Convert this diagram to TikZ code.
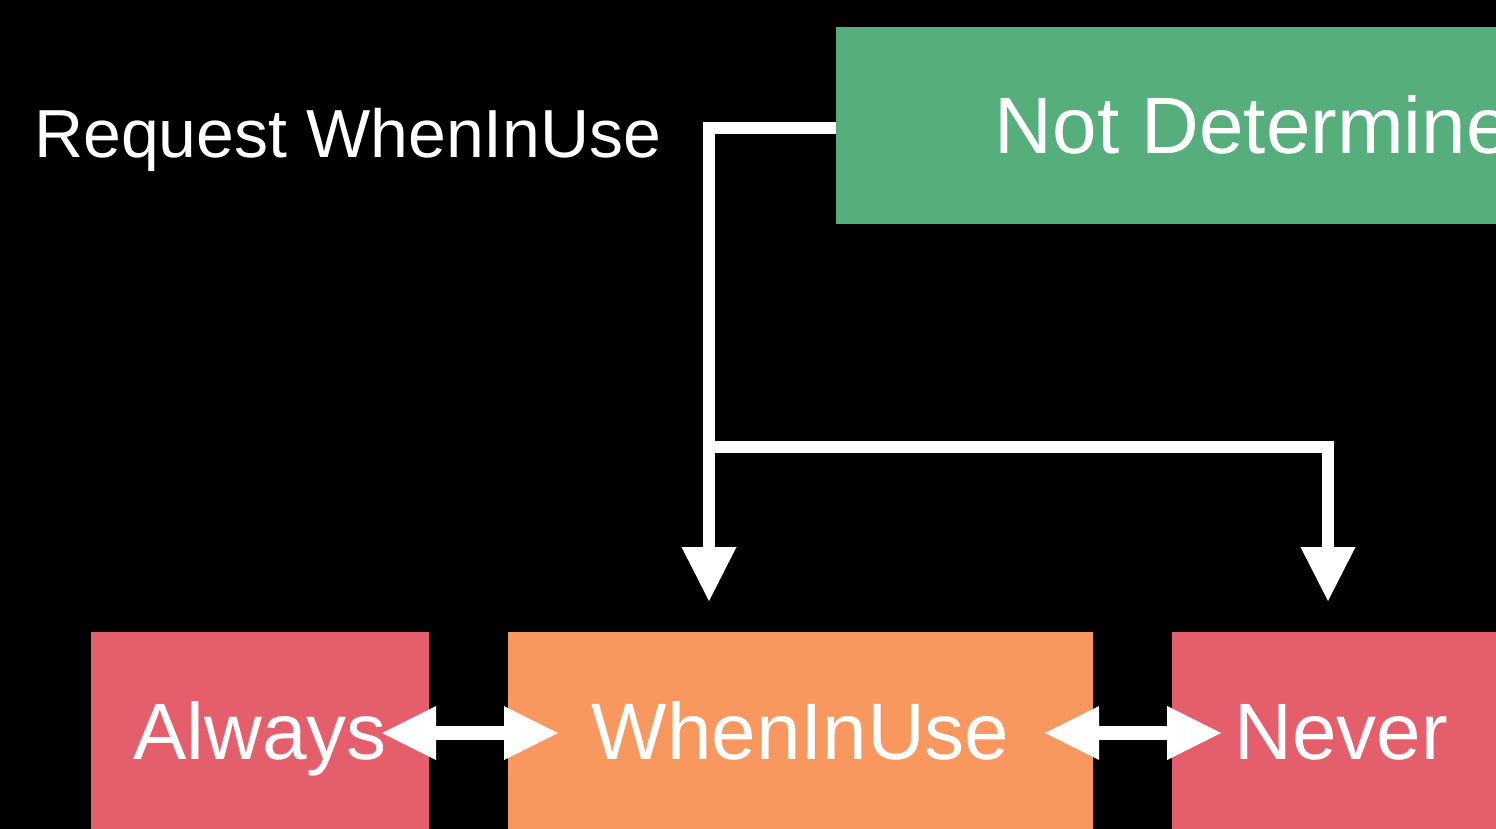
\documentclass[tikz,border=0pt]{standalone}
\usepackage{fontspec}
\setmainfont{Liberation Sans}
\usetikzlibrary{arrows.meta}
\definecolor{greenstate}{RGB}{85,174,123}
\definecolor{orangestate}{RGB}{249,152,94}
\definecolor{redstate}{RGB}{228,94,107}

\begin{document}
\begin{tikzpicture}[
  x=1pt, y=-1pt,
  statebox/.style={
    inner sep=0pt,
    outer sep=0pt,
    minimum height=197pt,
    text=white,
    font=\fontsize{80}{96}\selectfont,
    text height=57pt,
    text depth=0pt
  },
  notdetbox/.style={statebox, fill=greenstate, minimum width=878pt},
  allowbox/.style={statebox, fill=orangestate, minimum width=585pt},
  denybox/.style={statebox, fill=redstate, minimum width=338pt},
  reqlabel/.style={text=white, inner sep=0pt, anchor=base west, font=\fontsize{68}{80}\selectfont},
  flow/.style={draw=white, line width=12pt, -{Triangle[length=54pt,width=55pt,line width=0pt]}},
  biflow/.style={draw=white, line width=14pt,
    {Triangle[length=54pt,width=54pt,line width=0pt]}-{Triangle[length=54pt,width=54pt,line width=0pt]}}
]
  \useasboundingbox (0,0) rectangle (1496,829);
  \clip (0,0) rectangle (1496,829);
  \fill[black] (0,0) rectangle (1496,829);

  \node[notdetbox] (notdet) at (1275,125.5) {Not Determined};
  \node[denybox] (always) at (260,730.5) {Always};
  \node[allowbox] (wheninuse) at (800.5,730.5) {WhenInUse};
  \node[denybox] (never) at (1341,730.5) {Never};

  \node[reqlabel] (request) at (34,158) {Request WhenInUse};

  \coordinate (tipwhen) at (709,601);
  \coordinate (fork) at (709,447);
  \coordinate (tipnever) at (1328,601);

  \draw[flow] ([yshift=-2.5pt]notdet.west) -| (tipwhen);
  \draw[flow] (fork) -| (tipnever);

  \draw[biflow] ([xshift=-47pt,yshift=-2.5pt]always.east) -- ([xshift=50pt,yshift=-2.5pt]wheninuse.west);
  \draw[biflow] ([xshift=-48pt,yshift=-2.5pt]wheninuse.east) -- ([xshift=49pt,yshift=-2.5pt]never.west);
\end{tikzpicture}
\end{document}
